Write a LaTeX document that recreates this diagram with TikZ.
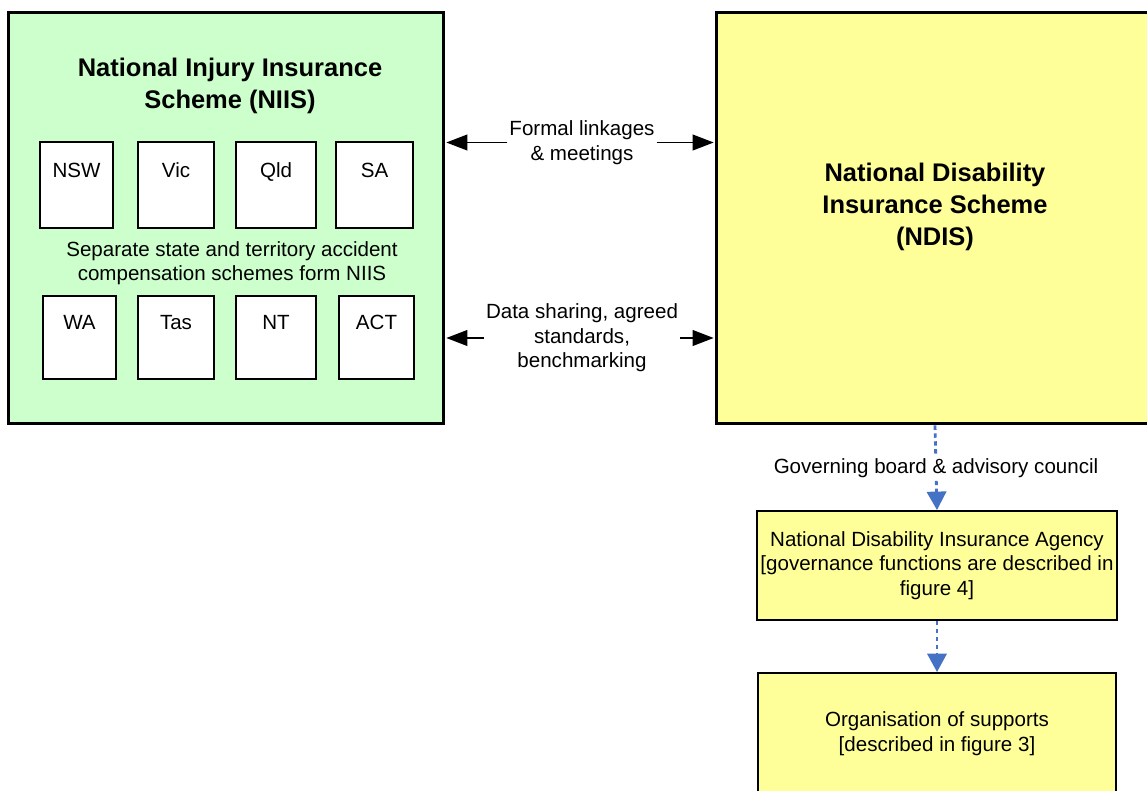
\documentclass[tikz,border=0pt]{standalone}
\usepackage{fontspec}
\setmainfont{Liberation Sans}
\usetikzlibrary{arrows.meta,positioning}

\definecolor{niisgreen}{HTML}{CCFFCC}
\definecolor{ndisyellow}{HTML}{FFFF99}
\definecolor{linkblue}{HTML}{4472C4}

\tikzset{
  scheme/.style={draw,line width=1.7pt,inner sep=0pt},
  state/.style={draw,fill=white,line width=0.8pt,minimum height=1.72cm,inner sep=0pt},
  agency/.style={draw,fill=ndisyellow,line width=1.1pt,minimum width=7.2cm,inner sep=0pt,align=center},
  heading/.style={font=\fontsize{14.5}{18.3}\selectfont\bfseries,align=center},
  plain/.style={font=\fontsize{11.7}{14}\selectfont,align=center},
  link/.style={plain,fill=white,text=black,inner sep=1pt},
  govern/.style={-{Triangle[length=10.5pt,width=11pt]},linkblue,line width=1.6pt,dash pattern=on 2.5pt off 2pt,shorten >=0pt},
}

\begin{document}
\begin{tikzpicture}[x=0.02cm,y=-0.02cm,>={Triangle[length=12pt,width=9pt]},shorten >=0.5pt,font=\fontsize{11.7}{14}\selectfont]
  \useasboundingbox (0,0) rectangle (1147,791);
  % the two schemes
  \node[scheme,fill=niisgreen,minimum width=8.72cm,minimum height=8.24cm] (niis) at (226,218) {};
  \node[scheme,fill=ndisyellow,minimum width=8.76cm,minimum height=8.24cm] (ndis) at (935,218) {};
  \node[heading] (niistitle) at (230,86) {National Injury Insurance\\Scheme (NIIS)};
  \node[heading] (ndistitle) at (935,207) {National Disability\\Insurance Scheme\\(NDIS)};
  % state and territory schemes
  \node[state,minimum width=1.46cm,label={[plain,anchor=base,yshift=-0.72cm]north:NSW}] (nsw) at (76.5,185) {};
  \node[state,minimum width=1.52cm,label={[plain,anchor=base,yshift=-0.72cm]north:Vic}] (vic) at (176,185) {};
  \node[state,minimum width=1.6cm,label={[plain,anchor=base,yshift=-0.72cm]north:Qld}] (qld) at (276,185) {};
  \node[state,minimum width=1.54cm,label={[plain,anchor=base,yshift=-0.72cm]north:SA}] (sa) at (374.5,185) {};
  \node[plain] (separate) at (232,263) {Separate state and territory accident\\compensation schemes form NIIS};
  \node[state,minimum width=1.46cm,minimum height=1.66cm,label={[plain,anchor=base,yshift=-0.68cm]north:WA}] (wa) at (79.5,337.5) {};
  \node[state,minimum width=1.52cm,minimum height=1.66cm,label={[plain,anchor=base,yshift=-0.68cm]north:Tas}] (tas) at (176,337.5) {};
  \node[state,minimum width=1.6cm,minimum height=1.66cm,label={[plain,anchor=base,yshift=-0.68cm]north:NT}] (nt) at (276,337.5) {};
  \node[state,minimum width=1.5cm,minimum height=1.66cm,label={[plain,anchor=base,yshift=-0.68cm]north:ACT}] (act) at (376.5,337.5) {};
  % links between the schemes
  \node[link] (linkage) at (582,142.5) {Formal linkages\\\& meetings};
  \node[link] (sharing) at (582,338) {Data sharing, agreed\\standards,\\benchmarking};
  \draw[->,line width=0.9pt] (linkage) -- (linkage -| niis.east);
  \draw[->,line width=0.9pt] (linkage) -- (linkage -| ndis.west);
  \draw[->,line width=0.9pt] (sharing) -- (sharing -| niis.east);
  \draw[->,line width=0.9pt] (sharing) -- (sharing -| ndis.west);
  % agency and supports
  \node[agency,minimum height=2.18cm] (ndia) at (937,565.5) {National Disability Insurance Agency\\{[}governance functions are described in\\figure 4{]}};
  \node[agency,minimum width=7.16cm,minimum height=2.42cm] (supports) at (937,733.5) {Organisation of supports\\ {[}described in figure 3{]}};
  \path[govern]
    (ndis.south) edge node[link] {Governing board \& advisory council} (ndia.north)
    (ndia.south) edge (supports.north);
\end{tikzpicture}
\end{document}
